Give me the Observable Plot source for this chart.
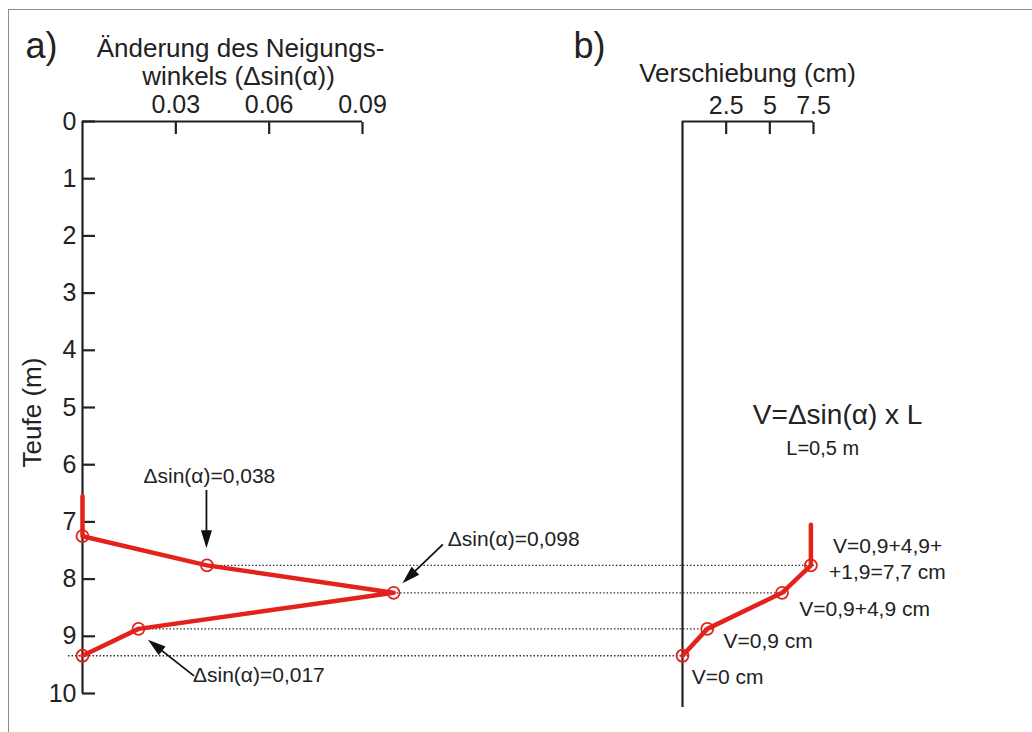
<!DOCTYPE html>
<html><head><meta charset="utf-8">
<script src="https://cdn.jsdelivr.net/npm/d3@7"></script>
<script src="https://cdn.jsdelivr.net/npm/@observablehq/plot@0.6"></script>
<style>
html,body{margin:0;padding:0;background:#fff;}
#wrap{position:relative;width:1032px;height:732px;overflow:hidden;background:#fff;font-family:"Liberation Sans",Arial,sans-serif;}
#border{position:absolute;left:8px;top:9px;width:1100px;height:800px;border-top:1.6px solid #8c8c8c;border-left:1.6px solid #8c8c8c;}
#left,#right{position:absolute;top:0;}
#left{left:0;}
#right{left:620px;}
</style></head><body>
<div id="wrap"><div id="border"></div><div id="left"></div><div id="right"></div></div>
<script>
// ---- data ----
const depthTicks = [0, 1, 2, 3, 4, 5, 6, 7, 8, 9, 10];
const tiltTicks = [0.03, 0.06, 0.09];
const shiftTicks = [2.5, 5, 7.5];
const tiltDomain = [0, 0.09];
const shiftDomain = [0, 7.5];

// panel a) change of inclination vs depth
const tiltDepth = [6.55, 7.25, 7.76, 8.24, 8.87, 9.34];
const tiltValue = [0, 0, 0.040, 0.100, 0.018, 0];
const tiltMarked = [1, 2, 3, 4, 5];

// panel b) displacement vs depth
const shiftDepth = [7.05, 7.76, 8.24, 8.87, 9.34];
const shiftValue = [7.35, 7.35, 5.7, 1.42, 0];
const shiftMarked = [1, 2, 3, 4];

// annotation texts (data coordinates)
const tiltLabels = ["Δsin(α)=0,038", "Δsin(α)=0,098", "Δsin(α)=0,017"];
const tiltLabelX = [0.0196, 0.1174, 0.0355];
const tiltLabelY = [6.21, 7.30, 9.68];
const arrowX1 = [0.040, 0.116, 0.0360];
const arrowY1 = [6.45, 7.40, 9.70];
const arrowX2 = [0.040, 0.1030, 0.0212];
const arrowY2 = [7.47, 8.08, 9.07];

const shiftLabels = ["V=0,9+4,9+", "+1,9=7,7 cm", "V=0,9+4,9 cm", "V=0,9 cm", "V=0 cm"];
const shiftLabelX = [8.62, 8.39, 6.68, 2.35, 0.53];
const shiftLabelY = [7.42, 7.88, 8.52, 9.08, 9.71];

const FONT = "'Liberation Sans', Arial, Helvetica, sans-serif";
const INK = "#222";
const RED = "#e3231b";
const DOT = {stroke: "#333", strokeWidth: 1.3, strokeDasharray: "1.5,2"};

function arrowMark(idx) {
  return (index, scales) => {
    const g = d3.create("svg:g");
    for (const i of idx) {
      const x1 = scales.x(arrowX1[i]), y1 = scales.y(arrowY1[i]);
      const x2 = scales.x(arrowX2[i]), y2 = scales.y(arrowY2[i]);
      const a = Math.atan2(y2 - y1, x2 - x1), L = 18, W = 5.5;
      const c = Math.cos(a), s = Math.sin(a);
      const bx = x2 - L * c, by = y2 - L * s;
      g.append("line").attr("x1", x1).attr("y1", y1).attr("x2", bx + 2 * c).attr("y2", by + 2 * s)
        .attr("stroke", "#111").attr("stroke-width", 1.8);
      g.append("path").attr("d", `M${x2},${y2}L${bx - W * s},${by + W * c}L${bx + W * s},${by - W * c}Z`)
        .attr("fill", "#111");
    }
    return g.node();
  };
}

const tIdx = d3.range(tiltDepth.length);
const sIdx = d3.range(shiftDepth.length);

const left = Plot.plot({
  width: 620, height: 732,
  marginLeft: 82, marginRight: 258, marginTop: 121, marginBottom: 39,
  x: {domain: tiltDomain, axis: null},
  y: {domain: [0, 10], reverse: true, axis: null},
  style: {fontFamily: FONT, color: INK, background: "transparent", overflow: "visible"},
  marks: [
    // dotted reference lines towards panel b
    Plot.ruleY(tiltMarked.slice(1, 4), {x1: i => tiltValue[i], x2: () => tiltDomain[1], y: i => tiltDepth[i], insetRight: -258, ...DOT}),
    Plot.ruleY(tiltMarked.slice(4), {x1: i => tiltValue[i], x2: () => tiltDomain[1], y: i => tiltDepth[i], insetLeft: -14, insetRight: -258, ...DOT}),
    Plot.ruleY([0], {stroke: INK, strokeWidth: 2.2}),
    Plot.ruleX([0], {stroke: INK, strokeWidth: 2.2}),
    Plot.axisX(tiltTicks, {anchor: "top", tickSize: -12, tickPadding: 21, fontSize: 25, strokeWidth: 2.2, tickFormat: d => String(d), label: null}),
    Plot.axisY(depthTicks, {anchor: "left", tickSize: -13, tickPadding: 19, fontSize: 25, strokeWidth: 2.2, tickFormat: d => String(d), label: null}),
    Plot.line(tIdx, {x: i => tiltValue[i], y: i => tiltDepth[i], stroke: RED, strokeWidth: 4.5, strokeLinejoin: "round"}),
    Plot.dot(tiltMarked, {x: i => tiltValue[i], y: i => tiltDepth[i], r: 6, stroke: RED, strokeWidth: 1.8, fill: "none"}),
    arrowMark([0, 1, 2]),
    Plot.text(tiltLabels, {x: (d, i) => tiltLabelX[i], y: (d, i) => tiltLabelY[i], text: d => d, textAnchor: "start", fontSize: 21, fill: INK}),
    // titles
    Plot.text(["a)"], {frameAnchor: "top-left", dx: -57, dy: -89, textAnchor: "start", fontSize: 36, fill: INK}),
    Plot.text(["Änderung des Neigungs-"], {frameAnchor: "top-left", dx: 158, dy: -83, textAnchor: "middle", fontSize: 26, fill: INK}),
    Plot.text(["winkels (Δsin(α))"], {frameAnchor: "top-left", dx: 156, dy: -55, textAnchor: "middle", fontSize: 26, fill: INK}),
    Plot.text(["Teufe (m)"], {frameAnchor: "left", dx: -50, dy: 5, rotate: -90, textAnchor: "middle", fontSize: 26, fill: INK})
  ]
});
document.getElementById("left").appendChild(left);

const right = Plot.plot({
  width: 412, height: 732,
  marginLeft: 62, marginRight: 219, marginTop: 121, marginBottom: 39,
  x: {domain: shiftDomain, axis: null},
  y: {domain: [0, 10], reverse: true, axis: null},
  style: {fontFamily: FONT, color: INK, background: "transparent", overflow: "visible"},
  marks: [
    Plot.ruleY(shiftMarked, {x1: () => shiftDomain[0], x2: i => shiftValue[i], y: i => shiftDepth[i], insetLeft: -62, insetRight: -6, ...DOT}),
    Plot.ruleY([0], {stroke: INK, strokeWidth: 2.2}),
    Plot.ruleX([0], {stroke: INK, strokeWidth: 2.2, insetBottom: -14}),
    Plot.axisX(shiftTicks, {anchor: "top", tickSize: -12, tickPadding: 20, fontSize: 25, strokeWidth: 2.2, tickFormat: d => String(d), label: null}),
    Plot.line(sIdx, {x: i => shiftValue[i], y: i => shiftDepth[i], stroke: RED, strokeWidth: 4.5, strokeLinejoin: "round"}),
    Plot.dot(shiftMarked, {x: i => shiftValue[i], y: i => shiftDepth[i], r: 6, stroke: RED, strokeWidth: 1.8, fill: "none"}),
    Plot.text(shiftLabels, {x: (d, i) => shiftLabelX[i], y: (d, i) => shiftLabelY[i], text: d => d, textAnchor: "start", fontSize: 21, fill: INK}),
    Plot.text(["V=Δsin(α) x L"], {x: [8.88], y: [5.14], textAnchor: "middle", fontSize: 28, fill: INK}),
    Plot.text(["L=0,5 m"], {x: [5.94], y: [5.72], textAnchor: "start", fontSize: 20, fill: INK}),
    Plot.text(["b)"], {frameAnchor: "top-left", dx: -109, dy: -89, textAnchor: "start", fontSize: 36, fill: INK}),
    Plot.text(["Verschiebung (cm)"], {frameAnchor: "top-left", dx: 65, dy: -58, textAnchor: "middle", fontSize: 26, fill: INK})
  ]
});
document.getElementById("right").appendChild(right);
</script>
</body></html>
